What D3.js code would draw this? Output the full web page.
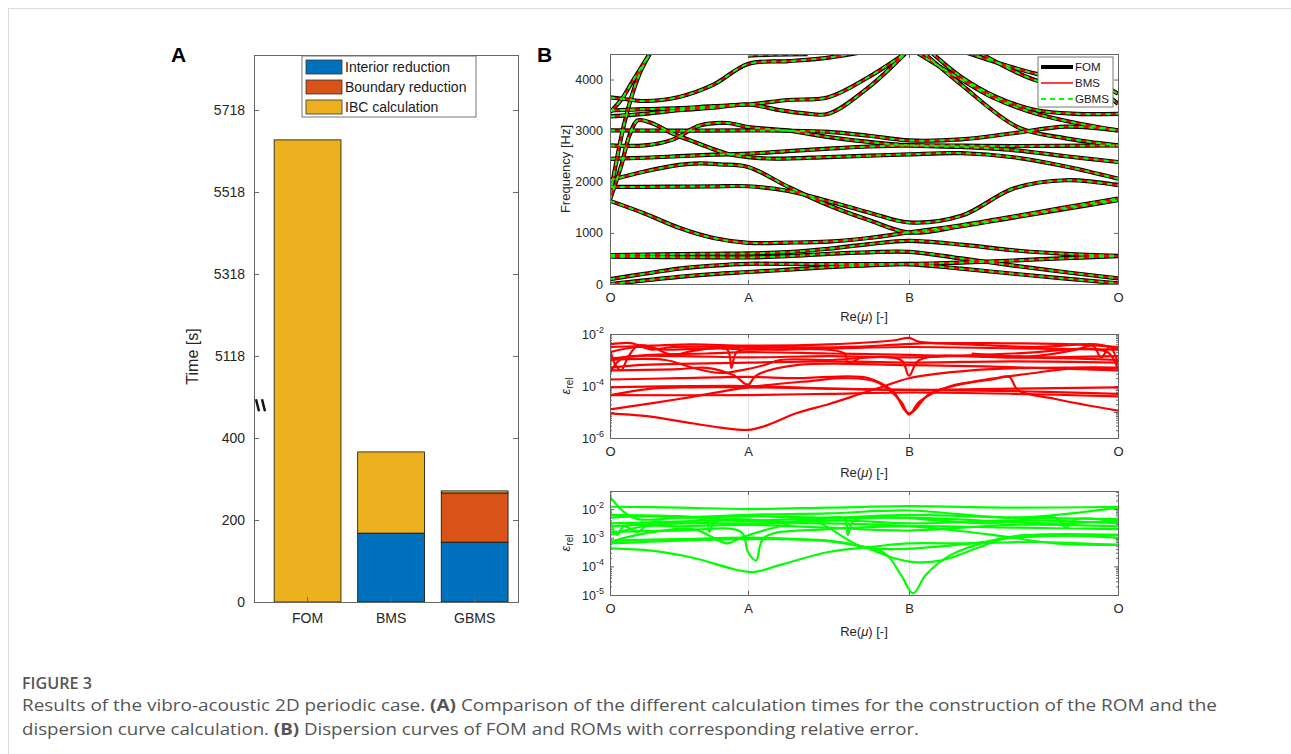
<!DOCTYPE html>
<html lang="en">
<head>
<meta charset="UTF-8">
<title>Figure 3</title>
<script src="https://d3js.org/d3.v7.min.js"></script>
<style>
  body, html { margin: 0; padding: 0; background: #fff; overflow: hidden; }
  svg { display: block; font-family: "Liberation Sans", Arial, sans-serif; }
  .tick text { fill: #262626; }
  .caption { font-family: "Open Sans", sans-serif; fill: #555; }
</style>
</head>
<body>
<svg width="1291" height="754"></svg>
<script>
// ---------- panel A data ----------
const categories = ["FOM", "BMS", "GBMS"];
const interiorTime = [0, 168, 146];
const boundaryTime = [0, 0, 120];
const ibcTime = [5645, 198, 5];
const timeTicks = [0, 200, 400, 5118, 5318, 5518, 5718];
const breakOffset = 4518;   // values above the axis break are shifted down by this
const seriesNames = ["Interior reduction", "Boundary reduction", "IBC calculation"];
const seriesColors = ["#0072BD", "#D95319", "#EDB120"];

// ---------- panel B data: [path position, value] ----------
// path position: 0 = O, 1 = A, 2 = B, 3 = O
const pathTicks = [0, 1, 2, 3];
const pathLabels = ["O", "A", "B", "O"];
const freqTicks = [0, 1000, 2000, 3000, 4000];

const branch01 = [[0,0],[0.25,70],[0.5,140],[0.75,195],[1,235],[1.25,280],[1.5,330],[1.75,365],[2,385],[2.25,300],[2.5,200],[2.75,105],[3,15]];
const branch02 = [[0,95],[0.25,200],[0.5,300],[0.75,360],[1,395],[1.25,392],[1.5,390],[1.75,390],[2,392],[2.25,420],[2.5,460],[2.75,505],[3,546]];
const branch03 = [[0,533],[0.25,530],[0.5,525],[0.75,522],[1,520],[1.25,545],[1.5,590],[1.75,620],[2,630],[2.25,500],[2.5,360],[2.75,230],[3,110]];
const branch04 = [[0,566],[0.25,575],[0.5,585],[0.75,592],[1,598],[1.25,625],[1.5,690],[1.75,780],[2,845],[2.25,770],[2.5,660],[2.75,590],[3,550]];
const branch05 = [[0,1626],[0.25,1380],[0.5,1100],[0.75,900],[1,806],[1.25,810],[1.5,830],[1.75,900],[2,1008],[2.25,1150],[2.5,1320],[2.75,1500],[3,1672]];
const branch06 = [[0,1899],[0.25,1900],[0.5,1905],[0.75,1910],[1,1912],[1.25,1820],[1.5,1620],[1.75,1400],[2,1204],[2.25,1333],[2.5,1867],[2.75,2030],[3,1932]];
const branch07 = [[0,2030],[0.25,2200],[0.5,2330],[0.65,2360],[0.8,2340],[1,2289],[1.25,1900],[1.5,1540],[1.75,1250],[2,1008],[2.25,1130],[2.5,1300],[2.75,1470],[3,1639]];
const branch08 = [[0,1650],[0.08,2300],[0.14,2900],[0.2,3200],[0.3,3150],[0.45,2950],[0.58,2810],[0.85,2550],[1,2484],[1.16,2452],[1.5,2484],[1.75,2510],[2,2537],[2.25,2560],[2.5,2480],[2.75,2300],[3,2062]];
const branch09 = [[0,2712],[0.25,2712],[0.45,2820],[0.65,3100],[0.85,3150],[1,3070],[1.25,3000],[1.5,2875],[1.75,2780],[2,2712],[2.25,2680],[2.5,2620],[2.75,2500],[3,2387]];
const branch10 = [[0,3005],[0.5,3000],[1,3005],[1.25,3000],[1.5,2975],[1.75,2900],[2,2810],[2.25,2830],[2.5,2950],[2.75,3080],[3,3005]];
const branch11 = [[0,2450],[0.25,2470],[0.5,2500],[0.75,2530],[1,2550],[1.25,2600],[1.5,2647],[1.75,2690],[2,2712],[2.5,2700],[3,2712]];
const branch12 = [[0,3650],[0.1,3620],[0.25,3580],[0.5,3660],[0.75,3900],[1,4306],[1.25,4360],[1.5,4430],[1.75,4560]];
const branch13 = [[0,3395],[0.25,3420],[0.5,3440],[0.75,3480],[1,3512],[1.25,3600],[1.5,3655],[1.75,4050],[1.98,4520]];
const branch14 = [[0,3278],[0.25,3330],[0.5,3400],[0.75,3450],[1,3512],[1.2,3400],[1.35,3340],[1.5,3330],[1.75,3850],[1.98,4520]];
const branch15 = [[0,1737],[0.05,2450],[0.1,3100],[0.16,3700],[0.22,4150],[0.3,4560]];
const branch16 = [[0,3362],[0.08,3600],[0.16,3950],[0.3,4560]];
const branch17 = [[1,4470],[1.15,4485],[1.37,4495]];
const branch18 = [[2.04,4520],[2.25,4000],[2.4,3650],[2.61,3330],[2.8,3150],[3,3005]];
const branch19 = [[2.07,4520],[2.25,3900],[2.52,3070],[2.75,2850],[3,2712]];
const branch20 = [[2.11,4520],[2.25,4050],[2.42,3655],[2.61,3400],[2.8,3330],[3,3330]];
const branch21 = [[2.28,4520],[2.61,4111],[2.9,3916],[3,3721]];
const branch22 = [[2.34,4520],[2.61,3980],[2.9,3785],[3,3525]];
const branches = [branch01, branch02, branch03, branch04, branch05, branch06, branch07, branch08,
  branch09, branch10, branch11, branch12, branch13, branch14, branch15, branch16, branch17,
  branch18, branch19, branch20, branch21, branch22];

// relative error of BMS, [path position, log10 error]
const bmsErr01 = [[0,-5.05],[0.25,-5.15],[0.5,-5.35],[0.8,-5.6],[1,-5.69],[1.1,-5.55],[1.3,-5.05],[1.5,-4.7],[1.7,-4.3],[1.85,-4.0],[2,-3.7],[2.3,-3.4],[2.6,-3.3],[3,-3.3]];
const bmsErr02 = [[0,-4.9],[0.5,-4.5],[1,-4.05],[1.4,-3.8],[1.6,-3.7],[1.8,-3.85],[1.95,-4.6],[2,-5.1],[2.05,-4.6],[2.2,-4.0],[2.4,-3.75],[2.48,-3.65],[2.52,-4.15],[2.7,-4.5],[3,-4.95]];
const bmsErr03 = [[0,-4.35],[0.3,-4.1],[0.6,-4.05],[1,-4.05],[1.5,-4.1],[2,-4.15],[2.5,-4.1],[3,-4.05]];
const bmsErr04 = [[0,-4.05],[1,-4.0],[1.5,-4.1],[2,-4.15],[2.5,-4.2],[3,-4.3]];
const bmsErr05 = [[0,-4.35],[1,-4.35],[1.5,-4.3],[2,-4.25],[2.5,-4.3],[3,-4.4]];
const bmsErr06 = [[0,-3.75],[0.5,-3.7],[1,-3.65],[1.3,-3.7],[1.5,-3.65],[1.75,-3.7],[1.9,-4.2],[2,-5.05],[2.1,-4.3],[2.3,-3.85],[2.6,-3.5],[2.8,-3.3],[3,-3.3]];
const bmsErr07 = [[0,-2.5],[0.3,-2.45],[0.6,-2.4],[1,-2.45],[1.5,-2.4],[1.9,-2.25],[2,-2.15],[2.05,-2.3],[2.4,-2.35],[2.8,-2.4],[3,-2.5]];
const bmsErr08 = [[0,-2.7],[0.2,-2.5],[0.4,-2.6],[0.8,-2.55],[1,-2.6],[1.5,-2.55],[2,-2.5],[2.5,-2.55],[3,-2.6]];
const bmsErr09 = [[0,-2.95],[0.3,-2.8],[0.7,-2.75],[1,-2.7],[1.5,-2.75],[2,-2.8],[2.5,-2.9],[3,-2.85]];
const bmsErr10 = [[0,-3.3],[0.2,-3.2],[0.5,-3.15],[1,-3.1],[1.5,-3.05],[2,-3.1],[2.5,-3.05],[3,-3.1]];
const bmsErr11 = [[0,-3.4],[0.5,-3.35],[0.7,-3.3],[0.9,-3.6],[1,-3.95],[1.05,-3.6],[1.3,-3.2],[2,-3.2],[2.6,-3.3],[3,-3.4]];
const bmsErr12 = [[0,-3.0],[0.4,-3.0],[0.6,-3.3],[0.8,-3.5],[0.95,-3.4],[1.1,-3.2],[1.2,-3.0],[1.5,-3.0],[1.95,-3.0],[2,-3.6],[2.05,-3.0],[2.5,-2.9],[3,-3.0]];
const bmsErr13 = [[0,-2.4],[0.15,-2.35],[0.3,-2.6],[0.45,-2.5],[1,-2.5],[1.6,-2.5],[1.95,-2.4],[2.1,-2.35],[2.6,-2.5],[2.9,-2.4],[3,-2.6]];
const bmsErr14 = [[0,-3.5],[0.05,-3.1],[0.1,-2.9],[0.5,-2.85],[1,-2.9],[1.5,-2.85],[2,-2.9],[2.5,-2.75],[2.95,-2.7],[3,-3.4]];
const bmsErr15 = [[0,-2.6],[0.04,-3.2],[0.08,-3.4],[0.13,-2.9],[0.2,-2.45],[0.3,-2.5],[0.45,-2.8],[0.6,-2.65],[0.85,-2.6],[0.88,-3.3],[0.92,-2.7],[1.2,-2.6],[1.6,-2.75],[1.62,-3.1],[1.7,-2.9]];
const bmsErr16 = [[2.3,-2.75],[2.6,-2.85],[2.8,-2.6],[2.88,-2.45],[2.92,-2.9],[2.96,-2.5],[3,-3.1]];
const bmsErrors = [bmsErr01, bmsErr02, bmsErr03, bmsErr04, bmsErr05, bmsErr06, bmsErr07,
  bmsErr08, bmsErr09, bmsErr10, bmsErr11, bmsErr12, bmsErr13, bmsErr14, bmsErr15, bmsErr16];

// relative error of GBMS, [path position, log10 error]
const gbmsErr01 = [[0,-3.37],[0.3,-3.45],[0.6,-3.7],[0.9,-4.1],[1.03,-4.2],[1.2,-3.95],[1.5,-3.5],[1.8,-3.3],[2,-3.2],[2.3,-3.2],[2.6,-3.15],[3,-3.25]];
const gbmsErr02 = [[0,-3.1],[0.5,-3.05],[1,-3.0],[1.3,-3.05],[1.6,-3.2],[1.85,-3.55],[1.95,-4.3],[2.02,-4.94],[2.08,-4.3],[2.2,-3.6],[2.4,-3.1],[2.6,-2.9],[3,-2.9]];
const gbmsErr03 = [[0,-3.2],[0.5,-3.1],[1,-3.05],[1.5,-3.1],[1.7,-3.3],[1.9,-3.7],[2.02,-3.85],[2.15,-3.8],[2.35,-3.3],[2.5,-2.95],[3,-3.0]];
const gbmsErr04 = [[0,-2.8],[0.5,-2.75],[0.95,-2.8],[1,-3.5],[1.05,-3.8],[1.1,-3.0],[1.5,-2.7],[2,-2.6],[2.5,-2.65],[3,-2.7]];
const gbmsErr05 = [[0,-3.15],[0.2,-2.9],[0.6,-2.7],[0.75,-3.0],[0.85,-3.2],[0.95,-3.0],[1.2,-2.6],[1.4,-2.4],[1.7,-3.3],[1.9,-3.4],[2.3,-3.2],[2.5,-3.0],[3,-2.9]];
const gbmsErr06 = [[0,-1.92],[0.5,-1.95],[1,-2.0],[1.5,-1.95],[2,-1.9],[2.5,-1.95],[3,-1.92]];
const gbmsErr07 = [[0,-1.57],[0.1,-2.1],[0.2,-2.35],[0.5,-2.3],[1,-2.2],[1.5,-2.15],[2,-2.05],[2.5,-2.3],[3,-1.95]];
const gbmsErr08 = [[0,-2.3],[0.3,-2.25],[0.6,-2.3],[1,-2.25],[1.5,-2.3],[2,-2.2],[2.5,-2.3],[3,-2.35]];
const gbmsErr09 = [[0,-2.5],[0.4,-2.45],[0.8,-2.4],[1.2,-2.45],[1.6,-2.4],[2,-2.5],[2.6,-2.4],[3,-2.5]];
const gbmsErr10 = [[0,-2.9],[0.25,-2.6],[0.5,-2.6],[1,-2.55],[1.5,-2.65],[2,-2.75],[2.5,-2.55],[3,-2.6]];
const gbmsErr11 = [[0,-2.6],[0.5,-2.5],[1,-2.5],[1.5,-2.5],[2,-2.6],[2.4,-2.9],[2.7,-3.2],[3,-3.25]];
const gbmsErr12 = [[0,-2.2],[0.5,-2.25],[1,-2.4],[1.3,-2.35],[2,-2.3],[2.7,-2.5],[3,-2.4]];
const gbmsErr13 = [[0,-2.4],[0.05,-2.9],[0.1,-2.6],[0.2,-2.8],[0.3,-2.45],[0.5,-2.5],[0.7,-2.4],[0.72,-2.8],[0.76,-2.45],[1.3,-2.45],[1.6,-2.35],[1.62,-2.9],[1.66,-2.4],[2.4,-2.5],[2.7,-2.3],[2.75,-2.65],[2.8,-2.35],[3,-2.45]];
const gbmsErrors = [gbmsErr01, gbmsErr02, gbmsErr03, gbmsErr04, gbmsErr05, gbmsErr06,
  gbmsErr07, gbmsErr08, gbmsErr09, gbmsErr10, gbmsErr11, gbmsErr12, gbmsErr13];

// ---------- drawing ----------
const svg = d3.select("svg");
const axisColor = "#666";

// card frame
svg.append("rect").attr("x", 8.5).attr("y", 8.5).attr("width", 1300).attr("height", 800)
  .attr("fill", "none").attr("stroke", "#dcdcdc");

function styleAxis(g) {
  g.attr("font-family", null).attr("font-size", null);
  g.select(".domain").remove();
  g.selectAll(".tick line").attr("stroke", axisColor);
}

function drawBox(x0, x1, y0, y1) {
  svg.append("rect").attr("x", x0 + 0.5).attr("y", y0 + 0.5)
    .attr("width", x1 - x0).attr("height", y1 - y0)
    .attr("fill", "none").attr("stroke", axisColor);
}

// ===== Panel A =====
const A = { l: 254, r: 518, t: 55, b: 602 };
const eff = v => v > 1000 ? v - breakOffset : v;
const xA = d3.scaleBand().domain(categories).range([A.l, A.r])
  .paddingInner(0.2).paddingOuter(0.18).align(0.67);
const yA = d3.scaleLinear().domain([0, 1334]).range([A.b, A.t]);

const rows = categories.map((c, i) => ({ cat: c, interior: interiorTime[i], boundary: boundaryTime[i], ibc: ibcTime[i] }));
const stack = d3.stack().keys(["interior", "boundary", "ibc"])(rows);

svg.append("g").selectAll("g").data(stack).join("g")
  .attr("fill", (d, i) => seriesColors[i])
  .selectAll("rect").data(d => d.filter(p => p[1] > p[0])).join("rect")
  .attr("x", d => xA(d.data.cat))
  .attr("y", d => yA(eff(d[1])))
  .attr("width", xA.bandwidth())
  .attr("height", d => yA(eff(d[0])) - yA(eff(d[1])))
  .attr("stroke", "#111").attr("stroke-width", 0.8);

svg.append("g").attr("transform", `translate(${A.l},0)`)
  .call(d3.axisLeft(yA).tickValues(timeTicks.map(eff)).tickFormat((d, i) => timeTicks[i])
    .tickSizeInner(-5).tickSizeOuter(0).tickPadding(9))
  .call(styleAxis).call(g => g.selectAll("text").attr("font-size", 14));
svg.append("g").attr("transform", `translate(${A.r},0)`)
  .call(d3.axisRight(yA).tickValues(timeTicks.map(eff)).tickFormat("").tickSizeInner(-5).tickSizeOuter(0))
  .call(styleAxis);
svg.append("g").attr("transform", `translate(0,${A.b})`)
  .call(d3.axisBottom(xA).tickSizeInner(-5).tickSizeOuter(0).tickPadding(11))
  .call(styleAxis).call(g => g.selectAll("text").attr("font-size", 14));
drawBox(A.l, A.r, A.t, A.b);

// axis break marks
const breakY = yA(480);
svg.append("g").attr("stroke", "#111").attr("stroke-width", 2.4)
  .selectAll("line").data([0, 6]).join("line")
  .attr("x1", d => A.l + 2 + d).attr("y1", breakY - 6)
  .attr("x2", d => A.l + 5 + d).attr("y2", breakY + 6);

svg.append("text").attr("transform", `translate(198,${(A.t + A.b) / 2 + 28}) rotate(-90)`)
  .attr("text-anchor", "middle").attr("font-size", 16).attr("fill", "#262626").text("Time [s]");

// legend A
const legA = svg.append("g").attr("transform", `translate(${A.l + 48},${A.t + 1})`);
legA.append("rect").attr("width", 174).attr("height", 61).attr("fill", "#fff").attr("stroke", "#777");
seriesNames.forEach((name, i) => {
  legA.append("rect").attr("x", 4).attr("y", 4 + i * 20).attr("width", 36).attr("height", 14)
    .attr("fill", seriesColors[i]).attr("stroke", "#333").attr("stroke-width", 0.8);
  legA.append("text").attr("x", 43).attr("y", 16 + i * 20).attr("font-size", 14)
    .attr("fill", "#1a1a1a").text(name);
});

svg.append("text").attr("x", 171).attr("y", 62).attr("font-size", 21).attr("font-weight", "bold").text("A");
svg.append("text").attr("x", 537).attr("y", 62).attr("font-size", 21).attr("font-weight", "bold").text("B");

// ===== Panel B helpers =====
const xB = d3.scaleLinear().domain(pathTicks).range([610, 748, 909, 1118]);

function pathAxes(top, bottom, titleY) {
  svg.append("g").selectAll("line").data([1, 2]).join("line")
    .attr("x1", d => xB(d) + 0.5).attr("x2", d => xB(d) + 0.5)
    .attr("y1", top).attr("y2", bottom).attr("stroke", "#e3e3e3");
  svg.append("g").attr("transform", `translate(0,${bottom})`)
    .call(d3.axisBottom(xB).tickValues(pathTicks).tickFormat((d, i) => pathLabels[i])
      .tickSizeInner(-4).tickSizeOuter(0).tickPadding(9))
    .call(styleAxis).call(a => a.selectAll("text").attr("font-size", 13));
  svg.append("g").attr("transform", `translate(0,${top})`)
    .call(d3.axisTop(xB).tickValues(pathTicks).tickFormat("").tickSizeInner(-4).tickSizeOuter(0))
    .call(styleAxis);
  const t = svg.append("text").attr("x", 864).attr("y", titleY).attr("text-anchor", "middle")
    .attr("font-size", 13).attr("fill", "#262626");
  t.append("tspan").text("Re(");
  t.append("tspan").attr("font-style", "italic").text("μ");
  t.append("tspan").text(") [-]");
}

function clipFor(id, top, bottom) {
  svg.append("clipPath").attr("id", id).append("rect")
    .attr("x", 610).attr("y", top).attr("width", 508).attr("height", bottom - top);
}

// ===== Panel B top: dispersion =====
const T = { t: 54, b: 284 };
const yF = d3.scaleLinear().domain([0, 4500]).range([T.b, T.t]);
pathAxes(T.t, T.b, 321);
svg.append("g").attr("transform", "translate(610,0)")
  .call(d3.axisLeft(yF).tickValues(freqTicks).tickFormat(d3.format("d"))
    .tickSizeInner(-4).tickSizeOuter(0).tickPadding(7))
  .call(styleAxis).call(g => g.selectAll("text").attr("font-size", 12.5));
svg.append("g").attr("transform", "translate(1118,0)")
  .call(d3.axisRight(yF).tickValues(freqTicks).tickFormat("").tickSizeInner(-4).tickSizeOuter(0))
  .call(styleAxis);
clipFor("clipTop", T.t, T.b);

const lineF = d3.line().x(d => xB(d[0])).y(d => yF(d[1])).curve(d3.curveCatmullRom.alpha(0.5));
const disp = svg.append("g").attr("clip-path", "url(#clipTop)").attr("fill", "none");
disp.append("g").selectAll("path").data(branches).join("path")
  .attr("d", lineF).attr("stroke", "#000").attr("stroke-width", 4.2);
disp.append("g").selectAll("path").data(branches).join("path")
  .attr("d", lineF).attr("stroke", "#ff0000").attr("stroke-width", 2);
disp.append("g").selectAll("path").data(branches).join("path")
  .attr("d", lineF).attr("stroke", "#00ff00").attr("stroke-width", 2).attr("stroke-dasharray", "5,5");
drawBox(610, 1118, T.t, T.b);

svg.append("text").attr("transform", `translate(570,${(T.t + T.b) / 2}) rotate(-90)`)
  .attr("text-anchor", "middle").attr("font-size", 13).attr("fill", "#262626").text("Frequency [Hz]");

// legend top
const legB = svg.append("g").attr("transform", "translate(1038,57)");
legB.append("rect").attr("width", 75).attr("height", 50).attr("fill", "#fff").attr("stroke", "#777");
const legItems = [
  { name: "FOM", color: "#000", w: 4, dash: null },
  { name: "BMS", color: "#ff0000", w: 1.5, dash: null },
  { name: "GBMS", color: "#00ff00", w: 1.8, dash: "5,4" }
];
legItems.forEach((it, i) => {
  legB.append("line").attr("x1", 3).attr("x2", 35).attr("y1", 10 + i * 16).attr("y2", 10 + i * 16)
    .attr("stroke", it.color).attr("stroke-width", it.w).attr("stroke-dasharray", it.dash);
  legB.append("text").attr("x", 37).attr("y", 14 + i * 16).attr("font-size", 11.5)
    .attr("fill", "#1a1a1a").text(it.name);
});

// ===== log error panels =====
function errorPanel(id, top, bottom, domainExp, labelExps, data, color, titleY) {
  const y = d3.scaleLog().domain([10 ** domainExp[0], 10 ** domainExp[1]]).range([bottom, top]);
  pathAxes(top, bottom, titleY);
  const lo = Math.ceil(domainExp[0]), hi = Math.floor(domainExp[1]);
  const majors = d3.range(lo, hi + 1).map(e => 10 ** e);
  const minors = [];
  for (let e = lo; e <= hi; e++) for (let k = 2; k <= 9; k++) {
    const v = k * 10 ** e;
    if (Math.log10(v) <= domainExp[1]) minors.push(v);
  }
  [[610, d3.axisLeft], [1118, d3.axisRight]].forEach(([x, ax]) => {
    svg.append("g").attr("transform", `translate(${x},0)`)
      .call(ax(y).tickValues(majors).tickFormat("").tickSizeInner(-4).tickSizeOuter(0)).call(styleAxis);
    svg.append("g").attr("transform", `translate(${x},0)`)
      .call(ax(y).tickValues(minors).tickFormat("").tickSizeInner(-2).tickSizeOuter(0)).call(styleAxis);
  });
  labelExps.forEach(e => {
    const t = svg.append("text").attr("x", 604).attr("y", y(10 ** e) + 5)
      .attr("text-anchor", "end").attr("font-size", 12.5).attr("fill", "#262626");
    t.append("tspan").text("10");
    t.append("tspan").attr("dy", -6).attr("font-size", 9).text(e);
  });
  clipFor(id, top, bottom);
  const line = d3.line().x(d => xB(d[0])).y(d => y(10 ** d[1])).curve(d3.curveCatmullRom.alpha(0.5));
  svg.append("g").attr("clip-path", `url(#${id})`).selectAll("path").data(data).join("path")
    .attr("d", line).attr("fill", "none").attr("stroke", color).attr("stroke-width", 2.2);
  drawBox(610, 1118, top, bottom);
  const lab = svg.append("text").attr("transform", `translate(570,${(top + bottom) / 2}) rotate(-90)`)
    .attr("text-anchor", "middle").attr("font-size", 13).attr("fill", "#262626");
  lab.append("tspan").attr("font-style", "italic").text("ε");
  lab.append("tspan").attr("font-size", 10).attr("dy", 3).text("rel");
}

errorPanel("clipMid", 334, 438, [-6, -2], [-2, -4, -6], bmsErrors, "#ff0000", 477);
errorPanel("clipBot", 491, 595, [-5, -1.37], [-2, -3, -4, -5], gbmsErrors, "#00ff00", 636);

// ===== caption =====
svg.append("text").attr("class", "caption").attr("x", 22).attr("y", 689)
  .attr("font-size", 16).attr("font-weight", 600).attr("textLength", 70)
  .attr("lengthAdjust", "spacingAndGlyphs").text("FIGURE 3");
const cap1 = svg.append("text").attr("class", "caption").attr("x", 22).attr("y", 711)
  .attr("font-size", 16).attr("textLength", 1195).attr("lengthAdjust", "spacingAndGlyphs");
cap1.append("tspan").text("Results of the vibro-acoustic 2D periodic case. ");
cap1.append("tspan").attr("font-weight", "bold").text("(A)");
cap1.append("tspan").text(" Comparison of the different calculation times for the construction of the ROM and the");
const cap2 = svg.append("text").attr("class", "caption").attr("x", 22).attr("y", 735)
  .attr("font-size", 16).attr("textLength", 897).attr("lengthAdjust", "spacingAndGlyphs");
cap2.append("tspan").text("dispersion curve calculation. ");
cap2.append("tspan").attr("font-weight", "bold").text("(B)");
cap2.append("tspan").text(" Dispersion curves of FOM and ROMs with corresponding relative error.");
</script>
</body>
</html>
